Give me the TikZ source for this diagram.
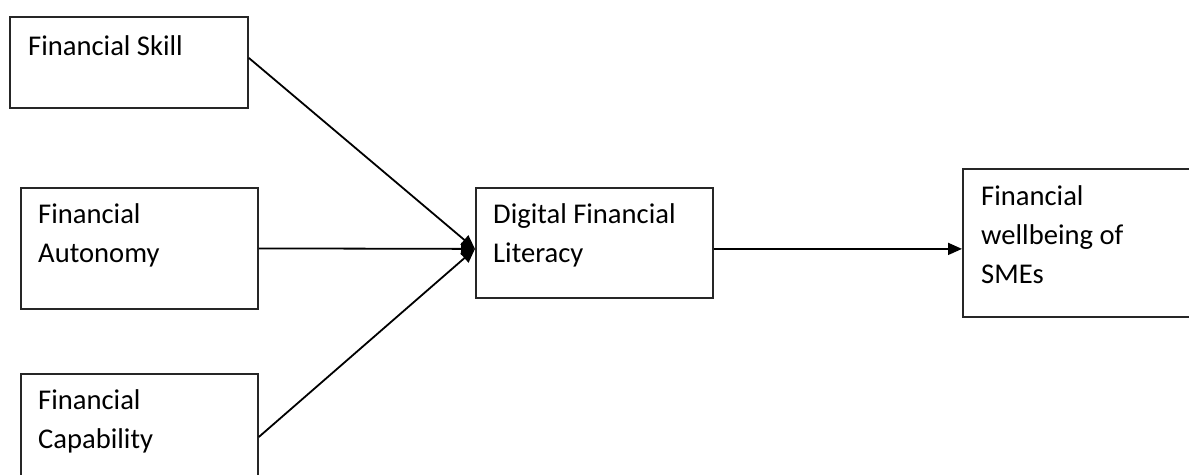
\documentclass[tikz,border=0pt]{standalone}
\usepackage{fontspec}
\setmainfont{Carlito}
\usetikzlibrary{arrows.meta}
\begin{document}
\begin{tikzpicture}[x=1pt,y=-1pt,
  box/.style={draw=black!85, line width=1.8pt, inner sep=0pt, anchor=north west},
  lbl/.style={anchor=base west, inner sep=0pt, font=\fontsize{28.6}{39}\selectfont, text=black, align=left},
  conn/.style={line width=1.8pt, -{Triangle[length=14pt,width=12pt]}}]
\useasboundingbox (0,0) rectangle (1189,474);
\clip (0,0) rectangle (1189,474);
\node[box, minimum width=238pt, minimum height=91pt] (skill) at (9,16) {};
\node[box, minimum width=237pt, minimum height=121pt] (auto) at (20,187) {};
\node[box, minimum width=237pt, minimum height=140pt] (cap) at (20,373) {};
\node[box, minimum width=237pt, minimum height=110pt] (dfl) at (475,187) {};
\node[box, minimum width=260pt, minimum height=148pt] (well) at (962,168) {};
\node[lbl] (tskill) at (28,55) {Financial Skill};
\node[lbl] (tauto) at (38,262) {Financial\\Autonomy};
\node[lbl] (tcap) at (38,448) {Financial\\Capability};
\node[lbl] (tdfl) at (493,262) {Digital Financial\\Literacy};
\node[lbl] (twell) at (981,283) {Financial\\wellbeing of\\SMEs};
\coordinate (in) at ([yshift=-6pt]dfl.west);
\draw[conn] ([yshift=4.5pt]skill.east) -- (in);
\draw[conn] (auto.east) -- (in);
\draw[conn] ([yshift=-64pt]cap.north east) -- (in);
\draw[conn] (dfl.east |- in) -- (well.west |- in);
\end{tikzpicture}
\end{document}
